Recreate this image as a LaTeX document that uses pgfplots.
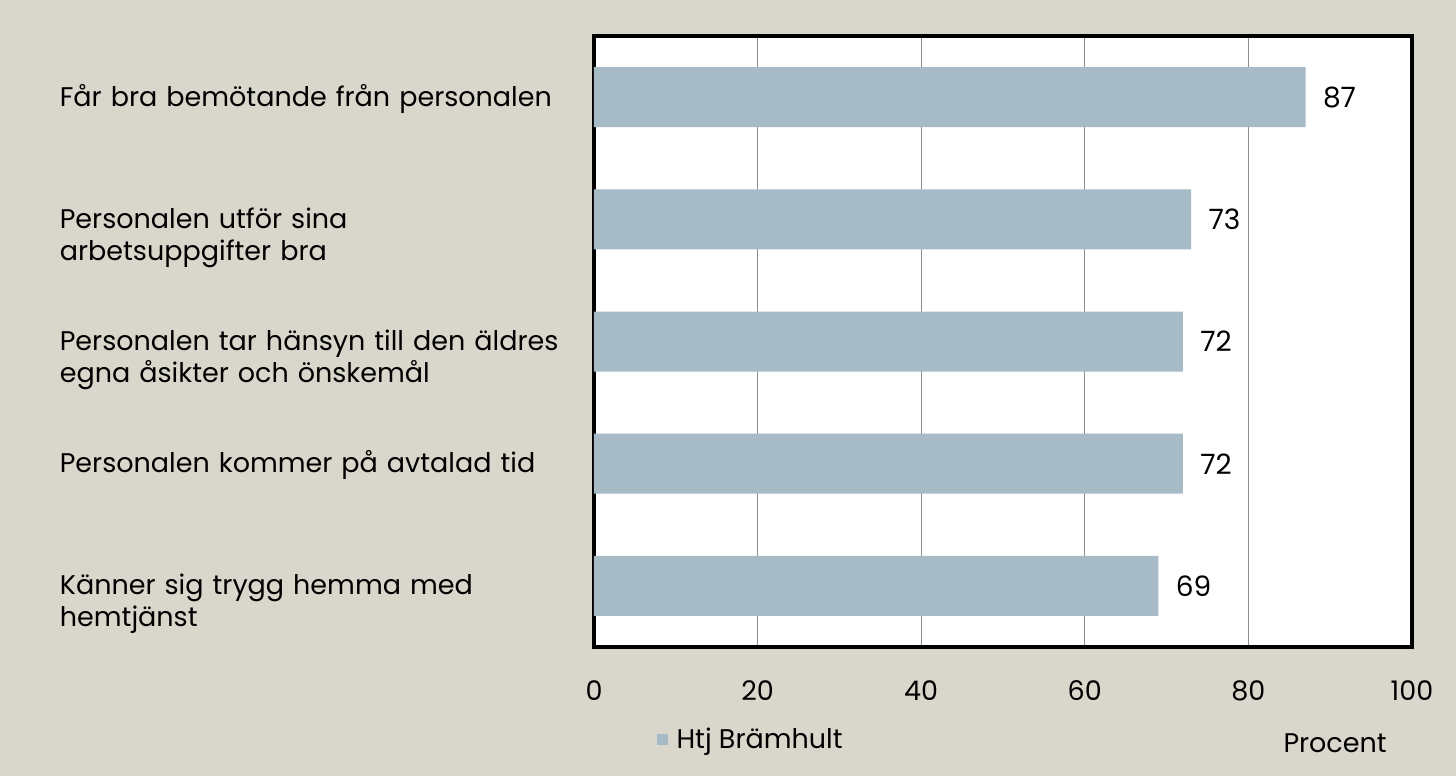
\documentclass[border=0pt]{standalone}
\usepackage{fontspec}
\setmainfont{Poppins}
\usepackage{pgfplots}
\pgfplotsset{compat=1.18}
\definecolor{bg}{HTML}{D9D7CB}
\definecolor{barc}{HTML}{A7BBC6}
\begin{document}
\fontsize{13.5pt}{16pt}\selectfont
\begin{tikzpicture}
\fill[bg] (-297pt,-64.5pt) rectangle (431pt,323.5pt);
\begin{axis}[
  at={(0,0)}, anchor=south west,
  width=409pt, height=305.5pt, scale only axis,
  xbar, bar width=30pt,
  xmin=0, xmax=100, ymin=0.5, ymax=5.5,
  xtick={0,20,40,60,80,100},
  ytick={1,2,3,4,5},
  yticklabels={{Känner sig trygg hemma med\\hemtjänst},
               {Personalen kommer på avtalad tid},
               {Personalen tar hänsyn till den äldres\\egna åsikter och önskemål},
               {Personalen utför sina\\arbetsuppgifter bra},
               {Får bra bemötande från personalen}},
  /pgf/number format/assume math mode=true,
  xmajorgrids, ymajorgrids=false,
  grid style={draw=black!45, line width=0.6pt},
  axis line style={line width=2pt, black},
  tick style={draw=none},
  axis background/.style={fill=white},
  xticklabel style={yshift=-12pt, font=\fontsize{13.5pt}{16pt}\selectfont},
  yticklabel style={anchor=mid west, xshift=-263pt, yshift=-0.8pt, inner sep=0pt, text width=250pt, align=left, font=\fontsize{13.5pt}{16pt}\selectfont},
  nodes near coords,
  every node near coord/.append style={anchor=west, xshift=4pt, font=\fontsize{14pt}{16pt}\selectfont, text=black},
  legend style={draw=none, fill=none, at={(0.076,-0.152)}, anchor=west, font=\fontsize{13.5pt}{16pt}\selectfont, inner sep=0pt},
  legend image code/.code={\fill[barc] (0pt,-2.75pt) rectangle (5.5pt,2.75pt); \path (8pt,0pt);},
  legend cell align=left,
  xlabel={Procent},
  xlabel style={at={(axis description cs:0.906,-0.157)}, anchor=center, font=\fontsize{13.5pt}{16pt}\selectfont},
]
\addplot[fill=barc, draw=none] coordinates {(69,1) (72,2) (72,3) (73,4) (87,5)};
\addlegendentry{Htj Brämhult}
\end{axis}
\end{tikzpicture}
\end{document}
